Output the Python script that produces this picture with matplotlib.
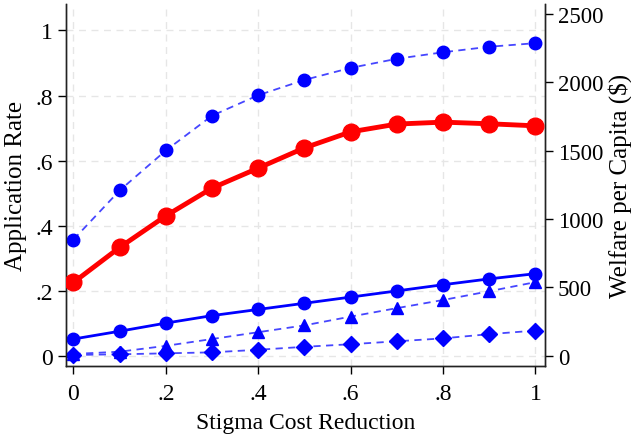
import matplotlib
matplotlib.use("Agg")
import matplotlib.pyplot as plt
from matplotlib.ticker import FixedLocator

plt.rcParams['font.family'] = ['Liberation Serif', 'DejaVu Serif']

# Stigma cost reduction grid
stigma = [0.0, 0.1, 0.2, 0.3, 0.4, 0.5, 0.6, 0.7, 0.8, 0.9, 1.0]

# Application rates (left axis)
rate_high = [0.357, 0.508, 0.631, 0.738, 0.801, 0.848, 0.885, 0.913, 0.933, 0.950, 0.961]
rate_mid = [0.051, 0.075, 0.100, 0.123, 0.142, 0.161, 0.180, 0.199, 0.218, 0.236, 0.252]
rate_low = [0.005, 0.012, 0.030, 0.051, 0.072, 0.093, 0.120, 0.146, 0.171, 0.198, 0.226]
rate_min = [0.002, 0.004, 0.007, 0.010, 0.018, 0.027, 0.035, 0.044, 0.053, 0.066, 0.077]

# Welfare per capita in dollars (right axis)
welfare = [536, 792, 1023, 1226, 1372, 1520, 1637, 1694, 1708, 1696, 1681]

x_ticks = [0, 0.2, 0.4, 0.6, 0.8, 1.0]
x_tick_labels = ["0", ".2", ".4", ".6", ".8", "1"]
left_ticks = [0, 0.2, 0.4, 0.6, 0.8, 1.0]
left_tick_labels = ["0", ".2", ".4", ".6", ".8", "1"]
right_ticks = [0, 500, 1000, 1500, 2000, 2500]
right_tick_labels = ["0", "500", "1000", "1500", "2000", "2500"]

fig = plt.figure(figsize=(6.31, 4.39), dpi=100)
ax = fig.add_axes([0.104, 0.164, 0.760, 0.825])
ax2 = ax.twinx()

blue = '#0000ff'
dash_blue = '#4646ff'
red = '#ff0000'

ax.set_xlim(-0.017, 1.021)
ax.set_ylim(-0.032, 1.082)
ax2.set_ylim(-75, 2573)

ax.grid(True, color='#e6e6e6', linestyle=(0, (5, 4)), linewidth=1.0)
ax.set_axisbelow(True)

ax.plot(stigma, rate_high, color=dash_blue, linestyle=(0, (4, 3)), linewidth=1.3,
        marker='o', markersize=9, markerfacecolor=blue, markeredgecolor=blue, zorder=3)
ax.plot(stigma, rate_mid, color=blue, linestyle='-', linewidth=2.0,
        marker='o', markersize=9, markerfacecolor=blue, markeredgecolor=blue, zorder=3)
ax.plot(stigma, rate_low, color=dash_blue, linestyle=(0, (4, 3)), linewidth=1.3,
        marker='^', markersize=9, markerfacecolor=blue, markeredgecolor=blue, zorder=3)
ax.plot(stigma, rate_min, color=dash_blue, linestyle=(0, (4, 3)), linewidth=1.3,
        marker='D', markersize=8, markerfacecolor=blue, markeredgecolor=blue, zorder=3)
ax2.plot(stigma, welfare, color=red, linestyle='-', linewidth=3.5,
         marker='o', markersize=12, markerfacecolor=red, markeredgecolor=red, zorder=4)

for a in (ax, ax2):
    a.spines['top'].set_visible(False)
    for s in a.spines.values():
        s.set_linewidth(1.0)
        s.set_color('#222222')

ax.xaxis.set_major_locator(FixedLocator(x_ticks))
ax.set_xticklabels(x_tick_labels)
ax.yaxis.set_major_locator(FixedLocator(left_ticks))
ax.set_yticklabels(left_tick_labels)
ax2.yaxis.set_major_locator(FixedLocator(right_ticks))
ax2.set_yticklabels(right_tick_labels)

ax.tick_params(axis='y', direction='out', length=6, width=1.0, labelsize=17, pad=3)
ax.tick_params(axis='x', direction='out', length=6, width=1.0, labelsize=17, pad=6)
ax2.tick_params(axis='y', direction='out', length=6, width=1.0, labelsize=16.5, pad=3)

ax.set_xlabel("Stigma Cost Reduction", fontsize=17, labelpad=6)
ax.set_ylabel("Application Rate", fontsize=18, labelpad=6)
ax2.set_ylabel("Welfare per Capita ($)", fontsize=18)
ax2.yaxis.set_label_coords(1.157, 0.5)
ax2.yaxis.label.set_verticalalignment('center')
ax2.yaxis.label.set_horizontalalignment('center')

fig.savefig("out.png", dpi=100, facecolor='white')
